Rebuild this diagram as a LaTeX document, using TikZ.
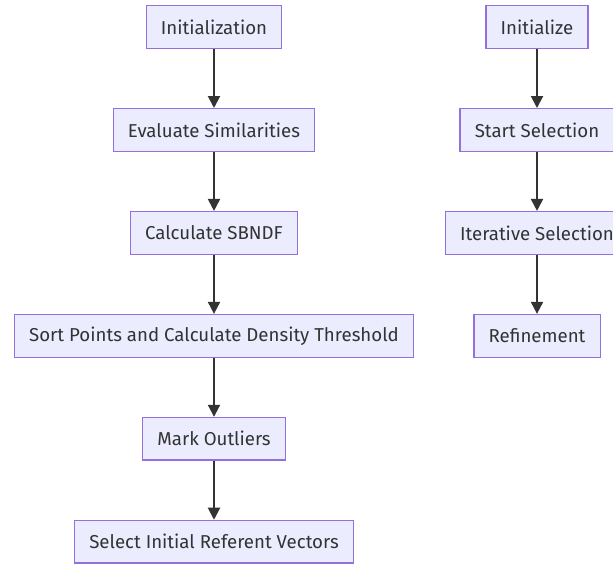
\documentclass[tikz,border=0pt]{standalone}
\usepackage{fontspec}
\setmainfont{Fira Sans}
\usetikzlibrary{positioning, arrows.meta}
\definecolor{boxfill}{HTML}{ECECFF}
\definecolor{boxline}{HTML}{9370DB}
\definecolor{ink}{HTML}{333333}

\begin{document}
\begin{tikzpicture}[x=0.75pt, y=-0.75pt,
    box/.style={rectangle, draw=boxline, fill=boxfill, line width=0.9pt, text=ink,
        minimum height=32pt, inner xsep=11pt, font=\fontsize{14}{16}\selectfont},
    flow/.style={-{Triangle[length=9pt, width=9pt]}, draw=ink, line width=1.5pt},
    node distance=44.3pt]
    \useasboundingbox (0,0) rectangle (613,565);

    % left chain
    \node[box] (init) at (214,27) {Initialization};
    \node[box, below=of init] (eval) {Evaluate Similarities};
    \node[box, below=of eval] (sbndf) {Calculate SBNDF};
    \node[box, below=of sbndf] (sort) {Sort Points and Calculate Density Threshold};
    \node[box, below=of sort] (mark) {Mark Outliers};
    \node[box, below=of mark] (select) {Select Initial Referent Vectors};

    % right chain
    \node[box] (initr) at (537,27) {Initialize};
    \node[box, below=of initr] (start) {Start Selection};
    \node[box, below=of start] (iter) {Iterative Selection};
    \node[box, below=of iter] (refine) {Refinement};

    \draw[flow] (init) -- (eval);
    \draw[flow] (eval) -- (sbndf);
    \draw[flow] (sbndf) -- (sort);
    \draw[flow] (sort) -- (mark);
    \draw[flow] (mark) -- (select);

    \draw[flow] (initr) -- (start);
    \draw[flow] (start) -- (iter);
    \draw[flow] (iter) -- (refine);
\end{tikzpicture}
\end{document}
